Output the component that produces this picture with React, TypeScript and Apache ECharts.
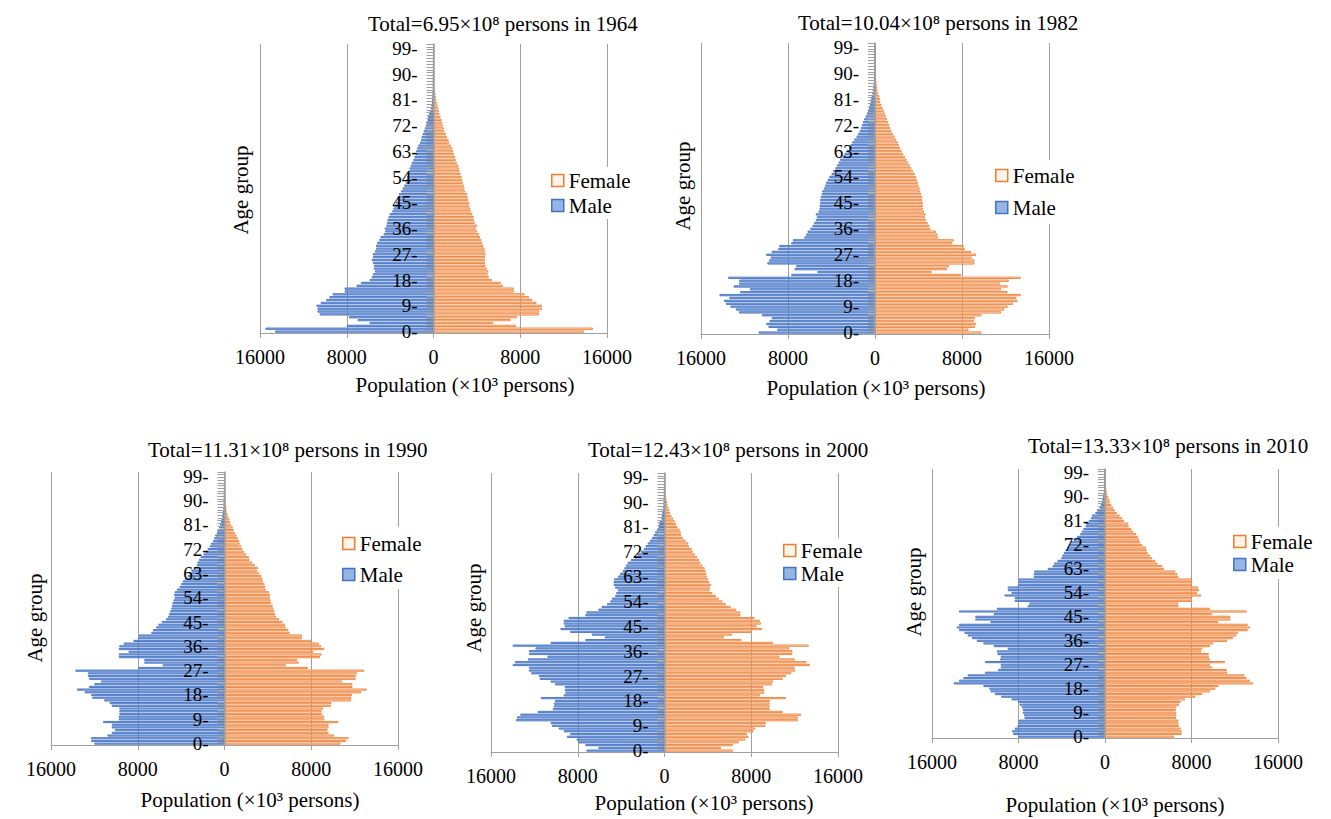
import React, { useEffect, useRef } from "react";
import * as echarts from "echarts";

// Ages 0..100 (category axis), labels shown every 9 years
const AGES: number[] = Array.from({ length: 101 }, (_, i) => i);

const TITLES = [
  "Total=6.95×10⁸ persons in 1964",
  "Total=10.04×10⁸ persons in 1982",
  "Total=11.31×10⁸ persons in 1990",
  "Total=12.43×10⁸ persons in 2000",
  "Total=13.33×10⁸ persons in 2010",
];

const X_TICKS = [-16000, -8000, 0, 8000, 16000];

// Population, ×10³ persons, ages 0..100
const MALE_1964 = [14600, 15500, 8000, 5900, 7000, 7800, 10500, 10700, 10700, 10800, 10400, 9900, 9600, 9300, 8200, 8200, 7100, 6700, 5900, 5700, 5600, 5400, 5500, 5500, 5600, 5700, 5600, 5600, 5400, 5300, 5300, 5200, 5000, 4900, 4600, 4450, 4500, 4350, 4300, 4250, 4150, 4050, 3800, 3700, 3600, 3450, 3300, 3300, 3200, 3000, 2850, 2700, 2550, 2500, 2450, 2350, 2250, 2200, 2100, 2000, 1850, 1750, 1650, 1600, 1500, 1400, 1250, 1150, 1100, 1000, 900, 800, 700, 650, 550, 500, 400, 350, 250, 200, 150, 120, 100, 80, 60, 50, 40, 35, 30, 25, 20, 15, 12, 10, 8, 6, 5, 4, 3, 2, 2];
const FEMALE_1964 = [13900, 14700, 7600, 5500, 7100, 7700, 9750, 9750, 10000, 10000, 9500, 9100, 8800, 8400, 7400, 7400, 6400, 6200, 5400, 5100, 5000, 5050, 4900, 4800, 4750, 4750, 4750, 4800, 4750, 4700, 4600, 4500, 4400, 4300, 4200, 4000, 3900, 4000, 3800, 3750, 3700, 3600, 3450, 3400, 3300, 3300, 3200, 3150, 3100, 2900, 2850, 2800, 2700, 2650, 2600, 2500, 2400, 2350, 2300, 2150, 2050, 2000, 1900, 1800, 1750, 1600, 1450, 1400, 1250, 1150, 1000, 950, 850, 800, 750, 650, 550, 500, 450, 380, 300, 250, 220, 180, 120, 100, 90, 80, 70, 60, 50, 45, 40, 35, 30, 25, 20, 18, 15, 12, 10];

const MALE_1982 = [10700, 9000, 9800, 10000, 9700, 9500, 10400, 12500, 12800, 13300, 13700, 13900, 13400, 14300, 12400, 11500, 13000, 12500, 12500, 13500, 7700, 5300, 7400, 7250, 9900, 9750, 9600, 10000, 9500, 8900, 8800, 7700, 7550, 6500, 6350, 6200, 5950, 5750, 5600, 5450, 5350, 5450, 5200, 5100, 5100, 5050, 5050, 5000, 4900, 4850, 4700, 4600, 4500, 4350, 4200, 4000, 3850, 3650, 3500, 3350, 3200, 3000, 2800, 2600, 2400, 2250, 2100, 1900, 1700, 1550, 1400, 1300, 1200, 1100, 1000, 870, 750, 650, 550, 470, 400, 350, 300, 250, 200, 160, 130, 100, 80, 60, 45, 35, 25, 20, 15, 10, 8, 6, 4, 3, 2];
const FEMALE_1982 = [9800, 8600, 9200, 9300, 9100, 9200, 9800, 11600, 11900, 12200, 12700, 13100, 13000, 13400, 12200, 11600, 12200, 11500, 12300, 13400, 7900, 5200, 6600, 6800, 9150, 9150, 8900, 9300, 8850, 8250, 8150, 7100, 7250, 5800, 5750, 5600, 5100, 5000, 4850, 4700, 4600, 4650, 4500, 4400, 4400, 4400, 4350, 4350, 4250, 4150, 4100, 4000, 3950, 3850, 3800, 3650, 3500, 3350, 3200, 3050, 2900, 2750, 2600, 2450, 2300, 2200, 2100, 1950, 1800, 1650, 1500, 1400, 1300, 1200, 1100, 1000, 900, 800, 700, 600, 500, 450, 400, 300, 230, 200, 170, 140, 110, 90, 70, 55, 45, 35, 25, 20, 15, 10, 8, 6, 5];

const MALE_1990 = [12000, 12300, 12300, 10800, 10400, 10100, 10400, 10400, 11200, 9750, 9750, 9700, 9700, 9700, 10400, 10600, 11100, 12200, 12300, 12900, 13600, 12500, 12000, 11400, 12500, 12600, 12600, 13750, 7950, 5700, 7400, 7400, 9750, 9750, 8850, 9750, 9700, 9300, 8400, 7950, 7900, 6750, 6600, 6300, 6100, 5800, 5400, 5200, 5100, 5000, 4900, 4850, 4800, 4700, 4600, 4650, 4600, 4400, 4150, 4000, 3850, 3650, 3400, 3250, 3050, 2800, 2550, 2500, 2350, 2200, 1950, 1750, 1550, 1350, 1250, 1050, 950, 850, 700, 650, 500, 400, 330, 270, 210, 180, 140, 110, 85, 65, 50, 40, 30, 22, 16, 12, 9, 6, 4, 3, 2];
const FEMALE_1990 = [10700, 11200, 11450, 10100, 9600, 9500, 9600, 9600, 10500, 9200, 9200, 9000, 8950, 9100, 9800, 9850, 11700, 11700, 11750, 12600, 13100, 11800, 11800, 10850, 12100, 12100, 12200, 12900, 7700, 5650, 6850, 6700, 8800, 8950, 8200, 9200, 8900, 8700, 8050, 7150, 7150, 6000, 5900, 5650, 5600, 5350, 5050, 4750, 4650, 4600, 4500, 4450, 4300, 4250, 4200, 4200, 4100, 3800, 3750, 3700, 3550, 3500, 3400, 3200, 3000, 3100, 2800, 2550, 2300, 2250, 2000, 1800, 1650, 1550, 1400, 1350, 1250, 1100, 950, 850, 750, 600, 520, 450, 350, 280, 200, 180, 160, 140, 120, 90, 70, 50, 35, 25, 18, 12, 8, 6, 5];

const MALE_2000 = [7200, 6100, 7300, 7950, 8100, 9000, 8700, 9300, 9750, 10400, 10500, 13700, 13600, 13300, 11700, 10300, 10200, 10200, 10100, 11400, 9300, 9150, 9200, 9200, 10100, 10500, 11500, 11600, 12300, 12500, 12500, 14000, 13800, 12600, 10800, 12500, 12500, 11900, 14000, 10500, 7300, 5500, 6700, 8700, 9600, 9200, 9300, 9300, 8850, 7300, 7200, 6100, 5800, 5300, 5000, 4850, 4550, 4450, 4300, 4550, 4700, 4700, 4650, 4300, 4100, 3850, 3700, 3550, 3400, 3100, 2800, 2500, 2200, 1900, 1750, 1550, 1350, 1150, 1000, 850, 700, 550, 500, 400, 300, 250, 200, 160, 120, 90, 70, 50, 40, 30, 20, 15, 10, 8, 5, 4, 3];
const FEMALE_2000 = [6300, 5200, 6300, 6850, 7450, 7750, 7600, 8200, 8350, 9300, 9350, 12300, 12300, 12600, 10900, 9700, 9700, 9700, 9700, 11200, 8800, 9200, 9200, 9100, 9900, 10000, 10900, 11200, 11700, 12050, 12000, 13400, 13100, 12000, 10600, 11800, 11800, 11500, 13300, 10000, 7100, 5500, 6250, 8050, 9000, 8500, 8900, 8800, 8300, 7000, 7000, 6600, 6100, 5650, 5350, 5000, 4750, 4400, 4150, 4200, 4300, 4150, 4000, 3900, 3850, 3800, 3700, 3500, 3300, 3200, 3000, 2800, 2600, 2500, 2250, 2200, 1950, 1700, 1550, 1500, 1400, 1200, 1050, 950, 800, 650, 500, 450, 350, 270, 270, 180, 140, 100, 80, 60, 45, 35, 25, 20, 15];

const MALE_2010 = [8050, 8500, 8600, 8350, 8100, 8000, 8000, 7450, 7500, 7600, 7600, 7700, 7900, 8050, 8650, 9600, 10200, 10600, 10700, 11250, 14000, 13500, 13100, 12700, 11100, 9900, 9650, 9650, 11100, 9700, 9650, 9950, 10000, 9000, 10300, 11250, 11850, 12300, 12700, 13000, 13500, 13700, 13500, 10600, 12000, 12000, 10300, 13500, 10000, 7150, 7000, 8350, 8350, 9300, 8650, 9000, 9000, 8050, 8000, 8000, 6600, 6600, 6550, 5300, 4850, 4700, 4400, 4050, 3950, 3800, 3650, 3500, 3350, 3200, 2900, 2600, 2300, 2150, 2000, 1800, 1750, 1500, 1300, 1200, 900, 750, 500, 400, 300, 250, 200, 150, 110, 80, 60, 40, 30, 20, 15, 10, 8];
const FEMALE_2010 = [6400, 7100, 7100, 7000, 6850, 6800, 6800, 6600, 6600, 6600, 6550, 6600, 6850, 7000, 7400, 8350, 9000, 9700, 10200, 10500, 13700, 13400, 13100, 12900, 11300, 11250, 9900, 9700, 11100, 9700, 9600, 9600, 8900, 9000, 9700, 10000, 11300, 11850, 12150, 12300, 13200, 13400, 13200, 10500, 11600, 11600, 9900, 13100, 9700, 6800, 6800, 8050, 8050, 8900, 8500, 8700, 8600, 8050, 8050, 8050, 6800, 6700, 6500, 5450, 5300, 4850, 4650, 4350, 4150, 3950, 3850, 3800, 3450, 3250, 3150, 3050, 2900, 2600, 2450, 2200, 2150, 1750, 1600, 1350, 1100, 900, 750, 600, 450, 400, 300, 220, 170, 120, 90, 60, 45, 30, 20, 15, 10];

const MALE = [MALE_1964, MALE_1982, MALE_1990, MALE_2000, MALE_2010];
const FEMALE = [FEMALE_1964, FEMALE_1982, FEMALE_1990, FEMALE_2000, FEMALE_2010];

// Layout per panel (pixels)
const PANELS = [
  { left: 260, width: 347, top: 44, height: 289, titleX: 368, titleY: 13, xNameX: 465, xNameY: 385, yNameX: 241, yNameY: 190, legX: 547, legY: 167, legGap: 4, legPad: [3, 4, 3, 4] },
  { left: 701, width: 348, top: 43, height: 291, titleX: 798, titleY: 12, xNameX: 876, xNameY: 388, yNameX: 683, yNameY: 186, legX: 991, legY: 160, legGap: 11, legPad: [5, 4, 6, 4] },
  { left: 51, width: 347, top: 472, height: 273, titleX: 148, titleY: 439, xNameX: 250, xNameY: 800, yNameX: 35, yNameY: 618, legX: 338, legY: 527, legGap: 10, legPad: [6, 4, 4, 4] },
  { left: 491, width: 347, top: 473, height: 279, titleX: 588, titleY: 439, xNameX: 704, xNameY: 803, yNameX: 474, yNameY: 608, legX: 779, legY: 538, legGap: 2, legPad: [2, 4, 3, 4] },
  { left: 932, width: 346, top: 469, height: 269, titleX: 1028, titleY: 435, xNameX: 1115, xNameY: 805, yNameX: 914, yNameY: 592, legX: 1229, legY: 527, legGap: 2, legPad: [4, 4, 4, 4] },
];

const FONT = '"Liberation Serif", "Times New Roman", "DejaVu Serif", serif';
const GRID_COLOR = "#a0a0a0";
const MALE_FILL = "#94b6e4";
const MALE_BORDER = "#4472c4";
const FEMALE_FILL = "#fff3ea";
const FEMALE_BORDER = "#ed7d31";

export default function App() {
  const ref = useRef<HTMLDivElement>(null);
  useEffect(() => {
    if (!ref.current) return;
    const chart = echarts.init(ref.current, undefined, { renderer: "svg" });
    const grid: any[] = [];
    const xAxis: any[] = [];
    const yAxis: any[] = [];
    const series: any[] = [];
    const title: any[] = [];
    const legend: any[] = [];
    const graphic: any[] = [];
    PANELS.forEach((p, i) => {
      grid.push({ left: p.left, top: p.top, width: p.width, height: p.height, containLabel: false });
      xAxis.push({
        type: "value",
        gridIndex: i,
        min: X_TICKS[0],
        max: X_TICKS[X_TICKS.length - 1],
        interval: 8000,
        axisLine: { show: true, onZero: false, lineStyle: { color: GRID_COLOR, width: 1 } },
        axisTick: { show: true, length: 5, lineStyle: { color: GRID_COLOR } },
        axisLabel: {
          margin: 14,
          fontFamily: FONT,
          fontSize: 20,
          color: "#000",
          formatter: (v: number) => String(Math.abs(v)),
        },
        splitLine: { show: true, lineStyle: { color: GRID_COLOR, width: 1 } },
      });
      yAxis.push({
        type: "category",
        gridIndex: i,
        data: AGES,
        z: 5,
        position: "left",
        offset: -p.width / 2,
        axisLine: { show: true, onZero: false, lineStyle: { color: GRID_COLOR, width: 1.5 } },
        axisTick: { show: true, interval: 0, length: 7, lineStyle: { color: GRID_COLOR, width: 1 } },
        axisLabel: {
          interval: 8,
          margin: 16,
          fontFamily: FONT,
          fontSize: 19,
          color: "#000",
          formatter: (v: string) => v + "-",
        },
        splitLine: { show: false },
      });
      series.push({
        type: "bar",
        name: "Male",
        xAxisIndex: i,
        yAxisIndex: i,
        data: MALE[i].map((v) => -v),
        barGap: "-100%",
        barCategoryGap: "22%",
        silent: true,
        itemStyle: { color: MALE_FILL, borderColor: MALE_BORDER, borderWidth: 0.9 },
      });
      series.push({
        type: "bar",
        name: "Female",
        xAxisIndex: i,
        yAxisIndex: i,
        data: FEMALE[i],
        barGap: "-100%",
        barCategoryGap: "22%",
        silent: true,
        itemStyle: { color: FEMALE_FILL, borderColor: FEMALE_BORDER, borderWidth: 0.9 },
      });
      title.push({
        text: TITLES[i],
        left: p.titleX,
        top: p.titleY,
        padding: 0,
        textStyle: { fontFamily: FONT, fontSize: 21, fontWeight: "normal", color: "#000" },
      });
      legend.push({
        orient: "vertical",
        left: p.legX,
        top: p.legY,
        itemGap: p.legGap,
        padding: p.legPad,
        itemWidth: 12,
        itemHeight: 12,
        backgroundColor: "#fff",
        selectedMode: false,
        icon: "rect",
        textStyle: { fontFamily: FONT, fontSize: 21, color: "#000", lineHeight: 20 },
        data: [
          { name: "Female", itemStyle: { color: FEMALE_FILL, borderColor: FEMALE_BORDER, borderWidth: 1.5 } },
          { name: "Male", itemStyle: { color: MALE_FILL, borderColor: MALE_BORDER, borderWidth: 1.5 } },
        ],
      });
      graphic.push({
        type: "text",
        x: p.xNameX,
        y: p.xNameY,
        style: {
          text: "Population (×10³ persons)",
          fontFamily: FONT,
          fontSize: 21,
          fill: "#000",
          align: "center",
          verticalAlign: "middle",
        },
      });
      graphic.push({
        type: "text",
        x: p.yNameX,
        y: p.yNameY,
        rotation: Math.PI / 2,
        style: {
          text: "Age group",
          fontFamily: FONT,
          fontSize: 21,
          fill: "#000",
          align: "center",
          verticalAlign: "middle",
        },
      });
    });
    chart.setOption({
      animation: false,
      backgroundColor: "#fff",
      grid,
      xAxis,
      yAxis,
      series,
      title,
      legend,
      graphic,
    });
    return () => chart.dispose();
  }, []);
  return (
    <div
      ref={ref}
      style={{ position: "fixed", left: 0, top: 0, width: 1331, height: 819, background: "#fff" }}
    />
  );
}
